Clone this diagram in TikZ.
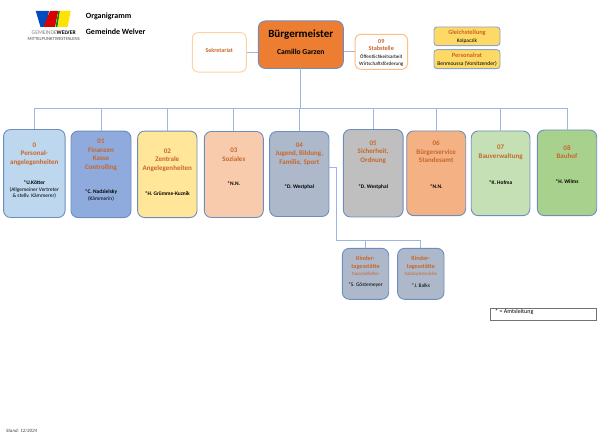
\documentclass[tikz,border=0pt]{standalone}
\usepackage{fontspec}
\setmainfont{Carlito}
\usepackage{xcolor}
\definecolor{linkblue}{HTML}{9DB5E0}
\definecolor{edgeblue}{HTML}{6C8EBF}
\definecolor{headorange}{HTML}{C8662A}
\definecolor{staffyellow}{HTML}{FFD966}
\definecolor{bmorange}{HTML}{ED7D31}
\definecolor{fillzero}{HTML}{BDD7EE}
\definecolor{fillone}{HTML}{8FAADC}
\definecolor{filltwo}{HTML}{FFE699}
\definecolor{fillthree}{HTML}{F8CBAD}
\definecolor{fillfour}{HTML}{ADB9CA}
\definecolor{fillfive}{HTML}{BFBFBF}
\definecolor{fillsix}{HTML}{F4B183}
\definecolor{fillseven}{HTML}{C5E0B4}
\definecolor{filleight}{HTML}{A9D18E}
\newcommand{\fsize}[1]{\fontsize{#1}{\the\dimexpr#1pt*122/100\relax}\selectfont}
\tikzset{
	orgbox/.style={draw=edgeblue,line width=0.9pt,rounded corners=7pt,inner sep=0pt},
	plainbox/.style={draw=#1,fill=white,line width=1pt,rounded corners=6pt,inner sep=0pt},
	smallbox/.style={draw=edgeblue!80,fill=staffyellow,line width=0.9pt,rounded corners=3pt,inner sep=0pt},
	head/.style={text=headorange,font=\fsize{7}\bfseries,align=center,inner sep=0pt},
	person/.style={font=\fsize{5.4}\bfseries,align=center,inner sep=0pt},
	note/.style={font=\fsize{5.4},align=center,inner sep=0pt},
	link/.style={draw=linkblue,line width=0.9pt}
}
\begin{document}
\begin{tikzpicture}[x=1pt,y=-1pt]
	\useasboundingbox (0,0) rectangle (600,436);
	% logo
	\fill[blue!60!cyan!75!black] (35.7,10.8)--(49,10.8)--(46,27)--(40.5,27)--cycle;
	\fill[red!85!black] (50,10.8)--(58.3,10.8)--(55,27)--(43.5,27)--cycle;
	\fill[green!55!black] (58.5,10.8)--(60,10.8)--(57.5,27)--(55.5,27)--cycle;
	\fill[yellow!85!orange] (60,10.8)--(70.7,10.8)--(67.7,27)--(57.5,27)--cycle;
	\node[inner sep=0pt,font=\fsize{5.6}] (logotop) at (53.7,32.5) {\textcolor{gray}{GEMEINDE}\textbf{WELVER}};
	\node[inner sep=0pt,font=\fsize{4.7},text=black!70] (logobot) at (53.7,39) {MITTELPUNKTWESTFALENS};
	% title
	\node[anchor=west,inner sep=0pt,font=\fsize{8}\bfseries] (title1) at (85.7,16) {Organigramm};
	\node[anchor=west,inner sep=0pt,font=\fsize{8}\bfseries] (title2) at (85.7,32) {Gemeinde Welver};

	% top row
	\node[orgbox,fill=bmorange,minimum width=85pt,minimum height=47.5pt] (bm) at (300.8,44.7) {};
	\node[inner sep=0pt,font=\fsize{11}\bfseries] (bmhead) at (300.8,35) {Bürgermeister};
	\node[inner sep=0pt,font=\fsize{7.6}\bfseries] (bmname) at (300.8,52) {Camillo Garzen};
	\node[plainbox=orange!35,minimum width=54pt,minimum height=39.5pt] (sek) at (219.3,52.3) {};
	\node[head,font=\fsize{6}\bfseries] (sekhead) at (219.3,50) {Sekretariat};
	\node[plainbox=orange!50,minimum width=52.5pt,minimum height=35pt] (stab) at (381.3,51.8) {};
	\node[head,font=\fsize{6.2}\bfseries] (stabhead) at (381.3,44.8) {09\\Stabstelle};
	\node[note,font=\fsize{5.1}] (stabnote) at (381.3,60.5) {Öffentlichkeitsarbeit\\Wirtschaftsförderung};
	\node[smallbox,minimum width=66pt,minimum height=18.6pt] (gleich) at (467,36.3) {};
	\node[head,font=\fsize{6.4}\bfseries] (gleichhead) at (467,32.5) {Gleichstellung};
	\node[note,font=\fsize{5.4}] (gleichname) at (467,40.8) {Kolpaczik};
	\node[smallbox,minimum width=66pt,minimum height=19pt] (prat) at (467,59.2) {};
	\node[head,font=\fsize{6.4}\bfseries] (prathead) at (467,55) {Personalrat};
	\node[note,font=\fsize{5.6}] (pratname) at (467,63.5) {Benmoussa (Vorsitzender)};

	% offices
	\node[orgbox,fill=fillzero,minimum width=61.5pt,minimum height=88pt] (a0) at (34.3,173.5) {};
	\node[orgbox,fill=fillone,minimum width=60pt,minimum height=86.5pt] (a1) at (101,174.3) {};
	\node[orgbox,fill=filltwo,minimum width=59.4pt,minimum height=86.5pt] (a2) at (167.3,174.3) {};
	\node[orgbox,fill=fillthree,minimum width=59pt,minimum height=86pt] (a3) at (233.8,174.5) {};
	\node[orgbox,fill=fillfour,minimum width=59.3pt,minimum height=85pt] (a4) at (299.3,174) {};
	\node[orgbox,fill=fillfive,minimum width=59.7pt,minimum height=87.5pt] (a5) at (373.2,173.2) {};
	\node[orgbox,fill=fillsix,minimum width=59pt,minimum height=84.7pt] (a6) at (436.2,173.3) {};
	\node[orgbox,fill=fillseven,minimum width=58.7pt,minimum height=84.7pt] (a7) at (500.6,173.3) {};
	\node[orgbox,fill=filleight,minimum width=59.4pt,minimum height=85.7pt] (a8) at (567,172.8) {};
	% labels of the offices
	\node[head] (h0) at (34.3,154) {0\\Personal-\\angelegenheiten};
	\node[person] (p0) at (34.3,183) {*U.Kötter};
	\node[note] (n0) at (34.3,193) {(Allgemeiner Vertreter\\\& stellv. Kämmerer)};
	\node[head] (h1) at (101,155) {01\\Finanzen\\Kasse\\Controlling};
	\node[person] (p1) at (101,191.5) {*C. Nadzielsky};
	\node[note] (n1) at (101,199.3) {(Kämmerin)};
	\node[head] (h2) at (167.3,160) {02\\Zentrale\\Angelegenheiten};
	\node[person] (p2) at (167.3,193.3) {*H. Grümme-Kuznik};
	\node[head] (h3) at (233.8,154.5) {03\\Soziales};
	\node[person] (p3) at (233.8,183.3) {*N.N.};
	\node[head] (h4) at (299.3,154) {04\\Jugend, Bildung,\\Familie, Sport};
	\node[person] (p4) at (299.3,187) {*D. Westphal};
	\node[head] (h5) at (373.2,152) {05\\Sicherheit,\\Ordnung};
	\node[person] (p5) at (373.2,187) {*D. Westphal};
	\node[head] (h6) at (436.2,152) {06\\Bürgerservice\\Standesamt};
	\node[person] (p6) at (436.2,187) {*N.N.};
	\node[head] (h7) at (500.6,152.3) {07\\Bauverwaltung};
	\node[person] (p7) at (500.6,182.3) {*K. Hofma};
	\node[head] (h8) at (567,152) {08\\Bauhof};
	\node[person] (p8) at (567,182) {*H. Wilms};

	% kindergartens
	\node[orgbox,fill=fillfour,minimum width=46.4pt,minimum height=51pt] (k1) at (365.5,273.8) {};
	\node[head,font=\fsize{6.2}\bfseries] (kh1) at (365.5,262.7) {Kinder-\\tagesstätte};
	\node[note,font=\fsize{4.8},text=headorange] (ks1) at (365.5,273.7) {Tausendfüßler};
	\node[note,font=\fsize{5.4}] (kp1) at (365.5,285.3) {*S. Göstemeyer};
	\node[orgbox,fill=fillfour,minimum width=46.4pt,minimum height=51pt] (k2) at (420.8,273.8) {};
	\node[head,font=\fsize{6.2}\bfseries] (kh2) at (420.8,262.7) {Kinder-\\tagesstätte};
	\node[note,font=\fsize{4.8},text=headorange] (ks2) at (420.8,273.7) {Salzbachstrolche};
	\node[note,font=\fsize{5.4}] (kp2) at (420.8,285.3) {*J. Balks};

	% legend, date
	\node[draw=black!55,line width=0.9pt,minimum width=106.7pt,minimum height=11.7pt,inner sep=0pt] (legbox) at (543.3,314.2) {};
	\node[anchor=west,inner sep=0pt,font=\fsize{6}] (legtext) at (495,311.7) {* = Amtsleitung};
	\node[anchor=west,inner sep=0pt,font=\fsize{4.9}\itshape,text=black!75] (stand) at (6,430.7) {Stand: 12/2024};

	% connectors
	\coordinate (bus) at (300,108);
	\coordinate (bmfoot) at (300,68.4);
	\coordinate (a4out) at (329,167.7);
	\coordinate (kbend) at (336,167.7);
	\coordinate (kbus) at (336,240);
	\draw[link] (a0.north|-bus)--(a8.north|-bus);
	\foreach \p in {a0,a1,a2,a3,a4,a5,a6,a7,a8}
		\draw[link] (\p.north)--(\p.north|-bus);
	\draw[link] (bmfoot)--(bus);
	\draw[link] (sek.east)--(sek.east-|bm.west);
	\draw[link] (stab.west)--(stab.west-|bm.east);
	\draw[link] (a4out)--(kbend)--(kbus);
	\draw[link] (kbus)--(kbus-|k2.north);
	\draw[link] (k1.north)--(k1.north|-kbus);
	\draw[link] (k2.north)--(k2.north|-kbus);
\end{tikzpicture}
\end{document}
